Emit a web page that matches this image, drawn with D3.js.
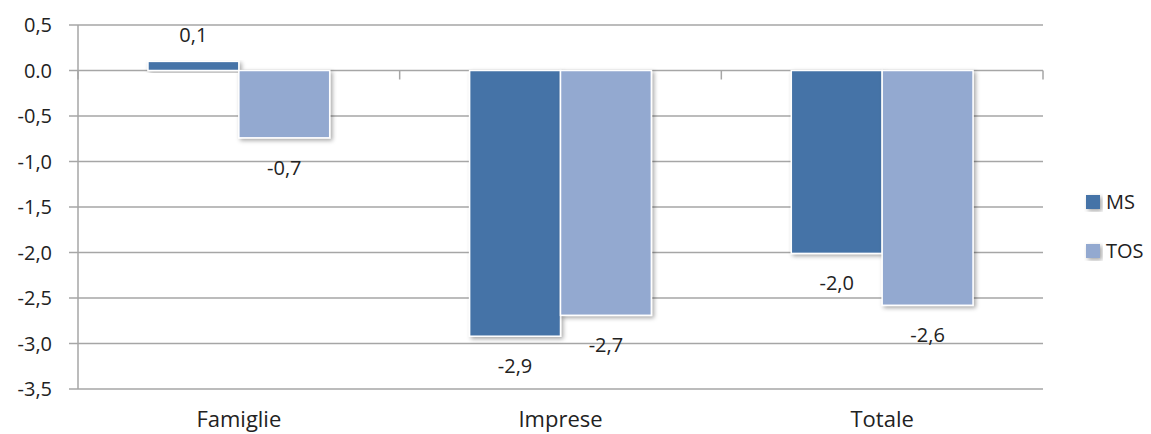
<!DOCTYPE html>
<html><head><meta charset="utf-8">
<script src="https://cdn.jsdelivr.net/npm/d3@7"></script>
<style>body{margin:0;background:#fff}svg{display:block}text{font-family:"Open Sans",Lato,sans-serif;fill:#222}</style>
</head><body>
<svg id="c" width="1151" height="434"></svg>
<script>
const categories = ["Famiglie", "Imprese", "Totale"];
const seriesNames = ["MS", "TOS"];
const msValues = [0.1, -2.92, -2.01];
const tosValues = [-0.74, -2.69, -2.58];
const msLabels = ["0,1", "-2,9", "-2,0"];
const tosLabels = ["-0,7", "-2,7", "-2,6"];
const yTicks = [0.5, 0, -0.5, -1, -1.5, -2, -2.5, -3, -3.5];
const yTickLabels = ["0,5", "0.0", "-0,5", "-1,0", "-1,5", "-2,0", "-2,5", "-3,0", "-3,5"];
const colors = ["#4573A7", "#93A9D0"];

(function(){
const svg = d3.select("#c");
const defs = svg.append("defs");
const f = defs.append("filter").attr("id","sh").attr("x","-10%").attr("y","-10%").attr("width","130%").attr("height","130%");
f.append("feDropShadow").attr("dx",2).attr("dy",2).attr("stdDeviation",2).attr("flood-color","#000").attr("flood-opacity",0.35);

const mL = 78, mR = 1043, mT = 25, mB = 389;
const x = d3.scaleBand().domain(categories).range([mL, mR]).paddingInner(0.435).paddingOuter(0.2175);
const xs = d3.scaleBand().domain(seriesNames).range([0, x.bandwidth()]);
const y = d3.scaleLinear().domain([0.5, -3.5]).range([mT, mB]);

const g = svg.append("g");
g.selectAll("line.grid").data(yTicks).join("line")
  .attr("x1", mL - 9).attr("x2", mR).attr("y1", d => y(d)).attr("y2", d => y(d))
  .attr("stroke", "#A6A6A6").attr("stroke-width", 1.5);
g.append("line").attr("x1", mL).attr("x2", mL).attr("y1", mT).attr("y2", mB).attr("stroke","#A6A6A6").attr("stroke-width",1.5);
const bounds = [mL, mL + (mR-mL)/3, mL + 2*(mR-mL)/3, mR];
g.selectAll("line.ct").data(bounds).join("line")
  .attr("x1", d=>d).attr("x2", d=>d).attr("y1", y(0)).attr("y2", y(0)+9)
  .attr("stroke","#A6A6A6").attr("stroke-width",1.5);

g.selectAll("text.yt").data(yTicks).join("text")
  .attr("x", 52).attr("y", d => y(d)).attr("dy","0.35em").attr("text-anchor","end")
  .attr("font-size", 20).text((d,i) => yTickLabels[i]);

const data = [];
categories.forEach((c,i) => {
  data.push({c, s:"MS", v:msValues[i], l:msLabels[i], col:colors[0]});
  data.push({c, s:"TOS", v:tosValues[i], l:tosLabels[i], col:colors[1]});
});

svg.append("g").selectAll("rect").data(data).join("rect")
  .attr("x", d => x(d.c) + xs(d.s)).attr("width", xs.bandwidth())
  .attr("y", d => y(Math.max(0,d.v))).attr("height", d => Math.abs(y(d.v)-y(0)))
  .attr("fill", d => d.col).attr("stroke","#fff").attr("stroke-width",1.5).attr("filter","url(#sh)");

svg.append("g").selectAll("text").data(data).join("text")
  .attr("x", d => x(d.c) + xs(d.s) + xs.bandwidth()/2)
  .attr("y", d => d.v >= 0 ? y(d.v) - 26 : y(d.v) + 30)
  .attr("dy","0.35em").attr("text-anchor","middle").attr("font-size",20).text(d => d.l);

svg.append("g").selectAll("text").data(categories).join("text")
  .attr("x", d => x(d) + x.bandwidth()/2).attr("y", 427).attr("text-anchor","middle")
  .attr("font-size", 22).text(d => d);

const leg = svg.append("g").selectAll("g").data(seriesNames).join("g")
  .attr("transform", (d,i) => `translate(1086,${195 + i*49})`);
leg.append("rect").attr("width",14).attr("height",14).attr("fill",(d,i)=>colors[i]).attr("filter","url(#sh)");
leg.append("text").attr("x",20).attr("y",7).attr("dy","0.35em").attr("font-size",20).text(d=>d);
})();
</script>
</body></html>
